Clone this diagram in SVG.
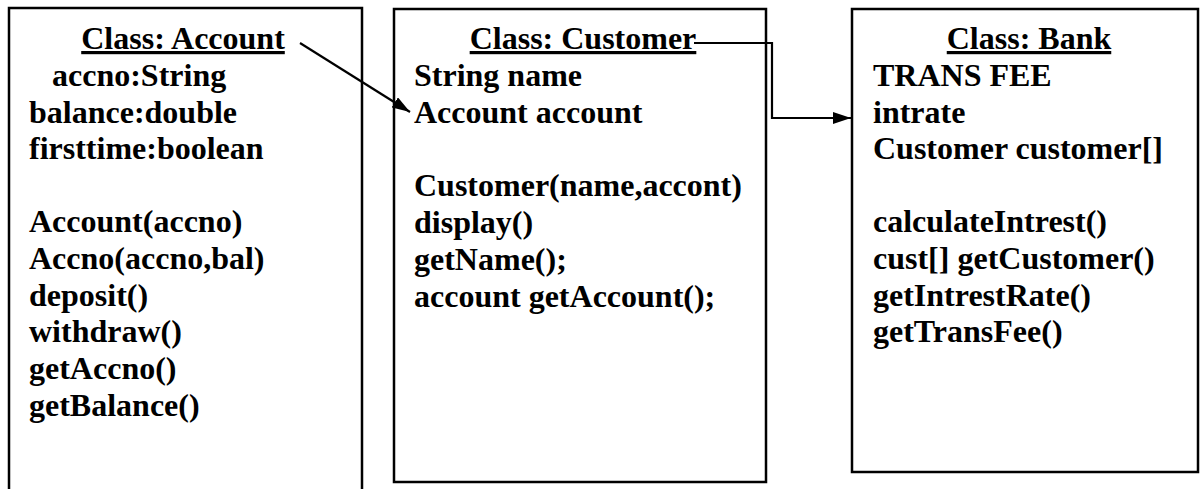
<svg xmlns="http://www.w3.org/2000/svg" width="1200" height="489" viewBox="0 0 1200 489">
  <style>
    .box { fill: #ffffff; stroke: #000000; stroke-width: 2.5; }
    .t { font-family: "Liberation Serif", "Times New Roman", serif; font-weight: bold; font-size: 32px; fill: #000000; }
    .h { text-anchor: middle; text-decoration: underline; }
    .conn { fill: none; stroke: #000000; stroke-width: 2.2; }
  </style>
  <defs>
    <marker id="arrowBig" viewBox="0 0 18 12" refX="18" refY="6" markerWidth="18" markerHeight="12" markerUnits="userSpaceOnUse" orient="auto">
      <path d="M0,0 L18,6 L0,12 z" fill="#000000"/>
    </marker>
  </defs>
  <rect width="1200" height="489" fill="#ffffff"/>

  <g id="account">
    <rect class="box" x="9" y="8" width="353" height="500"/>
    <text class="t h" x="183" y="49">Class: Account</text>
    <text class="t" x="52" y="86">accno:String</text>
    <text class="t" x="29" y="123">balance:double</text>
    <text class="t" x="29" y="159">firsttime:boolean</text>
    <text class="t" x="29" y="232">Account(accno)</text>
    <text class="t" x="29" y="269">Accno(accno,bal)</text>
    <text class="t" x="29" y="306">deposit()</text>
    <text class="t" x="29" y="342">withdraw()</text>
    <text class="t" x="29" y="379">getAccno()</text>
    <text class="t" x="29" y="416">getBalance()</text>
  </g>

  <g id="customer">
    <rect class="box" x="394" y="9" width="372" height="473"/>
    <text class="t h" x="583" y="49">Class: Customer</text>
    <text class="t" x="414" y="86">String name</text>
    <text class="t" x="414" y="123">Account account</text>
    <text class="t" x="414" y="196">Customer(name,accont)</text>
    <text class="t" x="414" y="233">display()</text>
    <text class="t" x="414" y="270">getName();</text>
    <text class="t" x="414" y="307">account getAccount();</text>
  </g>

  <g id="bank">
    <rect class="box" x="852" y="9" width="346" height="463"/>
    <text class="t h" x="1029" y="49">Class: Bank</text>
    <text class="t" x="873" y="86">TRANS FEE</text>
    <text class="t" x="873" y="123">intrate</text>
    <text class="t" x="873" y="159">Customer customer[]</text>
    <text class="t" x="873" y="232">calculateIntrest()</text>
    <text class="t" x="873" y="269">cust[] getCustomer()</text>
    <text class="t" x="873" y="306">getIntrestRate()</text>
    <text class="t" x="873" y="342">getTransFee()</text>
  </g>

  <g id="connectors">
    <line class="conn" x1="300" y1="43" x2="410" y2="112" marker-end="url(#arrowBig)"/>
    <polyline class="conn" points="694,43 772,43 772,118 851,118" marker-end="url(#arrowBig)"/>
  </g>
</svg>
